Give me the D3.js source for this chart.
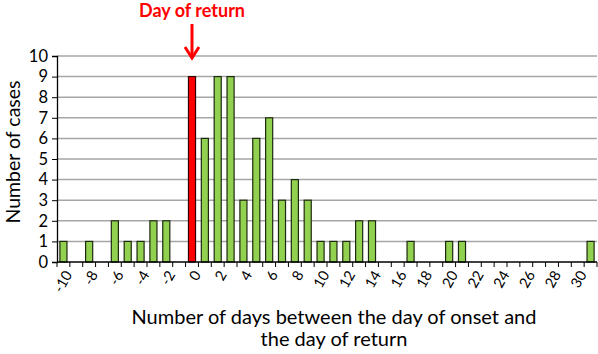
<!DOCTYPE html>
<html><head><meta charset="utf-8">
<script src="https://cdn.jsdelivr.net/npm/d3@7"></script>
<style>body{margin:0;background:#fff}svg{display:block}text{font-family:Lato,"Open Sans",sans-serif}</style>
</head><body><svg id="c" width="598" height="354"></svg>
<script>
const days = d3.range(-10, 32);
const cases = [1,0,1,0,2,1,1,2,2,0, 9,6,9,9,3,6,7,3,4,3, 1,1,1,2,2,0,0,1,0,0, 1,1,0,0,0,0,0,0,0,0, 0,1];
const yTicks = [0,1,2,3,4,5,6,7,8,9,10];
const xLabels = d3.range(-10, 31, 2);
const returnDay = 0;

const svg = d3.select("#c");
const L = 57, R = 597, T = 56, B = 262;
const x = d3.scaleBand().domain(days).range([L, R]).paddingInner(0.45).paddingOuter(0.225);
const y = d3.scaleLinear().domain([0, 10]).range([B, T]);

// gridlines
svg.append("g").selectAll("line").data(yTicks.filter(d => d > 0)).join("line")
  .attr("x1", L).attr("x2", R).attr("y1", d => y(d)).attr("y2", d => y(d))
  .attr("stroke", "#a6a6a6").attr("stroke-width", 1.5);

// bars
svg.append("g").selectAll("rect").data(days.map((d, i) => ({d, v: cases[i]})).filter(o => o.v > 0)).join("rect")
  .attr("x", o => x(o.d)).attr("width", x.bandwidth())
  .attr("y", o => y(o.v)).attr("height", o => y(0) - y(o.v))
  .attr("fill", o => o.d === returnDay ? "#ff0000" : "#92d050")
  .attr("stroke", o => o.d === returnDay ? "#330000" : "#1e2a10").attr("stroke-width", 1.2);

// y axis
const ya = svg.append("g").attr("transform", `translate(${L},0)`)
  .call(d3.axisLeft(y).tickValues(yTicks).tickSize(5).tickPadding(4).tickFormat(d3.format("d")));
ya.select(".domain").attr("stroke", "#000").attr("stroke-width", 1.3);
ya.selectAll(".tick line").attr("stroke", "#000");
ya.selectAll("text").attr("font-size", 16.5).attr("fill", "#000");

// x axis: ticks at category boundaries
const step = x.step();
const bounds = d3.range(days.length + 1).map(i => L + i * step);
svg.append("line").attr("x1", L).attr("x2", R).attr("y1", B).attr("y2", B).attr("stroke", "#000").attr("stroke-width", 1.3);
svg.append("g").selectAll("line").data(bounds).join("line")
  .attr("x1", d => d).attr("x2", d => d).attr("y1", B).attr("y2", B + 5).attr("stroke", "#000");
svg.append("g").selectAll("text").data(xLabels).join("text")
  .attr("transform", d => `translate(${x(d) + x.bandwidth() / 2 + 5},${B + 10}) rotate(-60)`)
  .attr("text-anchor", "end").attr("dy", "0.35em").attr("font-size", 14.5).text(d => d);

// titles
svg.append("text").attr("transform", `translate(20,152) rotate(-90)`)
  .attr("text-anchor", "middle").attr("font-size", 19.5).text("Number of cases");
svg.append("text").attr("x", 334).attr("y", 324).attr("text-anchor", "middle").attr("font-size", 20)
  .text("Number of days between the day of onset and");
svg.append("text").attr("x", 334).attr("y", 346).attr("text-anchor", "middle").attr("font-size", 20)
  .text("the day of return");

// annotation
const ax = x(returnDay) + x.bandwidth() / 2;
svg.append("text").attr("x", ax).attr("y", 17).attr("text-anchor", "middle").attr("font-size", 18)
  .attr("font-weight", "bold").attr("fill", "#ff0000").text("Day of return");
svg.append("line").attr("x1", ax).attr("x2", ax).attr("y1", 24).attr("y2", 57)
  .attr("stroke", "#ff0000").attr("stroke-width", 3);
svg.append("path").attr("d", `M${ax - 7},${47} L${ax},${58} L${ax + 7},${47}`)
  .attr("fill", "none").attr("stroke", "#ff0000").attr("stroke-width", 3);
</script></body></html>
